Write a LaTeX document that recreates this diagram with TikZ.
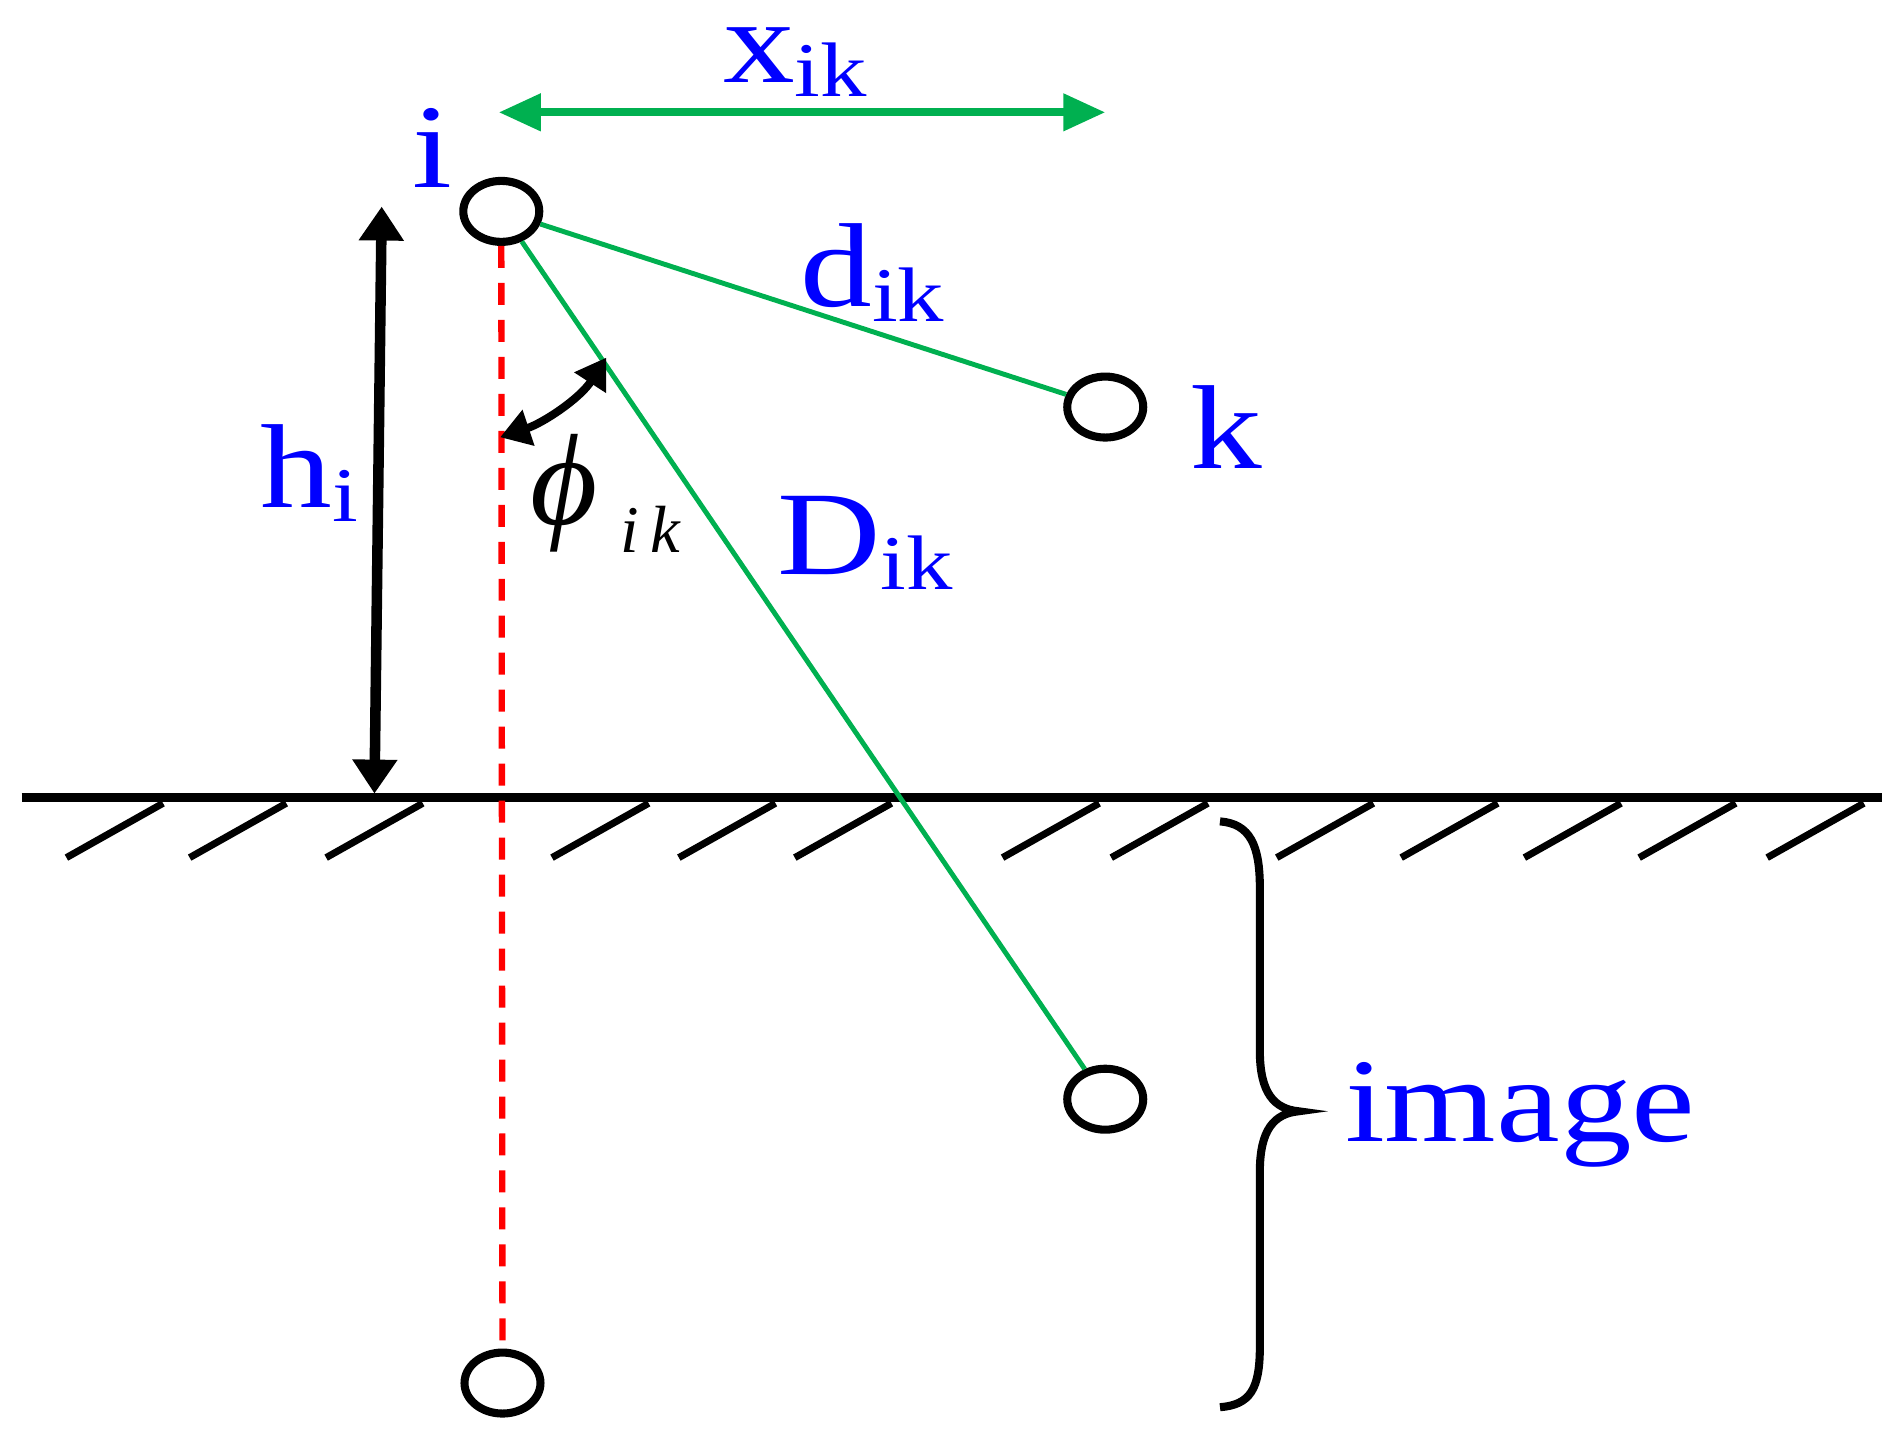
\documentclass[tikz,border=0pt]{standalone}
\usepackage{fontspec}
\usepackage{graphicx}
\setmainfont{Liberation Serif}
\usetikzlibrary{arrows.meta,shapes.geometric}

\definecolor{lblblue}{RGB}{0,0,255}
\definecolor{wiregreen}{RGB}{0,176,80}
\newcommand{\wide}[1]{\scalebox{1.2}[1]{#1}}
\newcommand{\lab}[2]{\wide{#1\raisebox{-0.12em}{\fontsize{22}{22}\selectfont #2}}}

\tikzset{
  cond/.style={draw, ellipse, line width=2.3pt, minimum width=0.76cm,
    minimum height=0.61cm, inner sep=0pt},
  lbl/.style={text=lblblue, font=\fontsize{34}{34}\selectfont, inner sep=0pt,
    anchor=base west},
  wire/.style={wiregreen, line width=1.4pt},
  refline/.style={red, line width=1.8pt, dash pattern=on 0.22cm off 0.15cm},
  hatch/.style={line width=2pt},
  dimarrow/.style={line width=3pt, {Triangle[length=0.34cm,width=0.43cm]}-{Triangle[length=0.34cm,width=0.43cm]}},
}

\begin{document}
\begin{tikzpicture}[x=0.01208cm, y=-0.01208cm]
  \useasboundingbox (0,0) rectangle (1568,1189);

  % conductors and their images
  \node[cond] (i)  at (415,175)  {};
  \node[cond] (k)  at (915,337)  {};
  \node[cond] (k2) at (915,910)  {};
  \node[cond] (i2) at (416,1145) {};

  % ground with hatching
  \coordinate (gl) at (18,660);
  \coordinate (gr) at (1558,660);
  \draw[line width=2.6pt] (gl) -- (gr);
  \foreach \hx in {55,157,270,457,562,658,830,920,1057,1160,1262,1357,1463}
    \draw[hatch] (\hx,710) -- ++(80,-45);

  % distances
  \draw[refline] (i) -- (i2);
  \draw[wire] (i) -- (k);
  \draw[wire] (i) -- (k2);

  \coordinate (xl) at (413,93);
  \coordinate (xr) at (915,93);
  \draw[wiregreen, line width=2.2pt,
    {Triangle[length=0.42cm,width=0.36cm]}-{Triangle[length=0.42cm,width=0.36cm]}] (xl) -- (xr);

  \coordinate (ht) at (316,171);
  \coordinate (hb) at (310,657);
  \draw[dimarrow] (ht) -- (hb);

  % angle
  \coordinate (pa) at (414,362);
  \coordinate (pb) at (502,296);
  \draw[line width=2.3pt, {Triangle[length=0.3cm,width=0.36cm]}-{Triangle[length=0.3cm,width=0.36cm]}]
    (pa) .. controls (450,350) and (480,330) .. (pb);

  % brace
  \draw[line width=2.3pt] (1010,680) .. controls (1035,682) and (1043,700) .. (1043,735)
    -- (1043,870) .. controls (1043,905) and (1055,918) .. (1075,920)
    .. controls (1055,922) and (1043,935) .. (1043,970)
    -- (1043,1115) .. controls (1043,1150) and (1035,1163) .. (1010,1165);

  % labels
  \node[lbl] (li) at (341,155) {\wide{i}};
  \node[lbl] (lx) at (598,68)  {\lab{x}{ik}};
  \node[lbl] (ld) at (662,254) {\lab{d}{ik}};
  \node[lbl] (lk) at (985,388) {\wide{k}};
  \node[lbl] (lh) at (215,420) {\lab{h}{i}};
  \node[lbl] (lD) at (643,476) {\lab{D}{ik}};
  \node[lbl] (lim) at (1113,945) {\wide{image}};
  \node[font=\fontsize{37}{37}\selectfont\itshape, inner sep=0pt] (phi) at (467,408) {\symbol{"03D5}};
  \node[font=\fontsize{19}{19}\selectfont\itshape, inner sep=0pt, anchor=base west] (phisub) at (513,457) {i\,k};
\end{tikzpicture}
\end{document}
